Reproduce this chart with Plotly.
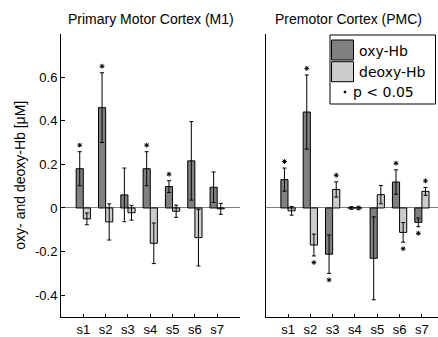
import plotly.graph_objects as go

# ---------------- data ----------------
categories = ["s1", "s2", "s3", "s4", "s5", "s6", "s7"]

m1_oxy = [0.18, 0.46, 0.06, 0.18, 0.098, 0.216, 0.095]
m1_oxy_err = [0.078, 0.16, 0.123, 0.078, 0.027, 0.18, 0.07]
m1_deoxy = [-0.05, -0.064, -0.022, -0.162, -0.015, -0.136, -0.004]
m1_deoxy_err = [0.027, 0.083, 0.034, 0.093, 0.028, 0.13, 0.025]
m1_oxy_sig = [True, True, False, True, True, False, False]
m1_deoxy_sig = [False, False, False, False, False, False, False]

pmc_oxy = [0.13, 0.44, -0.212, 0.0, -0.231, 0.119, -0.066]
pmc_oxy_err = [0.053, 0.17, 0.088, 0.006, 0.19, 0.056, 0.02]
pmc_deoxy = [-0.013, -0.17, 0.085, 0.0, 0.061, -0.112, 0.076]
pmc_deoxy_err = [0.02, 0.05, 0.035, 0.008, 0.042, 0.045, 0.018]
pmc_oxy_sig = [True, True, True, False, False, True, True]
pmc_deoxy_sig = [False, True, True, False, False, True, True]

ytick_vals = [-0.4, -0.2, 0, 0.2, 0.4, 0.6]
ytick_text = ["-0.4", "-0.2", "0", "0.2", "0.4", "0.6"]

# ---------------- style ----------------
W, H = 438, 337
OXY_COLOR = "#808080"
DEOXY_COLOR = "#cccccc"
BAR_W = 0.32
STAR_PAD = 0.03
FONT = "Liberation Sans, Arial, sans-serif"

pos = list(range(1, len(categories) + 1))

fig = go.Figure()


def add_panel(oxy, oxy_err, deoxy, deoxy_err, oxy_sig, deoxy_sig, xa, ya):
    fig.add_trace(go.Bar(
        x=pos, y=oxy, width=BAR_W, offset=-BAR_W,
        marker=dict(color=OXY_COLOR, line=dict(color="black", width=1)),
        error_y=dict(type="data", array=oxy_err, color="black", thickness=1, width=2),
        xaxis=xa, yaxis=ya, showlegend=False))
    fig.add_trace(go.Bar(
        x=pos, y=deoxy, width=BAR_W, offset=0,
        marker=dict(color=DEOXY_COLOR, line=dict(color="black", width=1)),
        error_y=dict(type="data", array=deoxy_err, color="black", thickness=1, width=2),
        xaxis=xa, yaxis=ya, showlegend=False))
    sx, sy = [], []
    for p, v, e, s in zip(pos, oxy, oxy_err, oxy_sig):
        if s:
            sx.append(p - BAR_W / 2)
            sy.append(v + (e + STAR_PAD) * (1 if v >= 0 else -1))
    for p, v, e, s in zip(pos, deoxy, deoxy_err, deoxy_sig):
        if s:
            sx.append(p + BAR_W / 2)
            sy.append(v + (e + STAR_PAD) * (1 if v >= 0 else -1))
    fig.add_trace(go.Scatter(
        x=sx, y=sy, mode="markers",
        marker=dict(symbol="asterisk-open", size=4, color="black",
                    line=dict(color="black", width=1)),
        xaxis=xa, yaxis=ya, showlegend=False, cliponaxis=False))


add_panel(m1_oxy, m1_oxy_err, m1_deoxy, m1_deoxy_err, m1_oxy_sig, m1_deoxy_sig, "x", "y")
add_panel(pmc_oxy, pmc_oxy_err, pmc_deoxy, pmc_deoxy_err, pmc_oxy_sig, pmc_deoxy_sig, "x2", "y2")

# pixel layout helpers
def px(x):
    return x / W


def py(y):
    return 1 - y / H


plot_top, plot_bot = 33.5, 317
left_x0, left_x1 = 61, 239.5
right_x0, right_x1 = 265.7, 438
unit = (left_x1 - left_x0) / 8.0

xcommon = dict(tickvals=pos, ticktext=categories, ticks="inside", ticklen=3,
               tickcolor="black", showline=True, linecolor="black", linewidth=1,
               showgrid=False, zeroline=False,
               tickfont=dict(family=FONT, size=13, color="black"))
ycommon = dict(range=[-0.5, 0.8], showgrid=False, showline=True, linecolor="black",
               linewidth=1, zeroline=True, zerolinecolor="#808080", zerolinewidth=1)

fig.update_layout(
    width=W, height=H,
    margin=dict(l=0, r=0, t=0, b=0),
    paper_bgcolor="white", plot_bgcolor="white",
    barmode="overlay",
    font=dict(family=FONT, size=13, color="black"),
    xaxis=dict(domain=[px(left_x0), px(left_x1)], range=[0, 8], anchor="y", **xcommon),
    yaxis=dict(domain=[py(plot_bot), py(plot_top)], anchor="x",
               tickvals=ytick_vals, ticktext=ytick_text, ticks="inside", ticklen=4,
               tickcolor="black", tickfont=dict(family=FONT, size=13, color="black"),
               title=dict(text="oxy- and deoxy-Hb [μM]", standoff=6,
                          font=dict(family=FONT, size=14, color="black")),
               **ycommon),
    xaxis2=dict(domain=[px(right_x0), 1.0],
                range=[0, (right_x1 - right_x0) / unit], anchor="y2", **xcommon),
    yaxis2=dict(domain=[py(plot_bot), py(plot_top)], anchor="x2",
                showticklabels=False, ticks="", **ycommon),
)

# titles
fig.add_annotation(text="Primary Motor Cortex (M1)", x=px(151), y=py(19),
                   xref="paper", yref="paper", showarrow=False,
                   xanchor="center", yanchor="middle",
                   font=dict(family=FONT, size=14, color="black"))
fig.add_annotation(text="Premotor Cortex (PMC)", x=px(348), y=py(19),
                   xref="paper", yref="paper", showarrow=False,
                   xanchor="center", yanchor="middle",
                   font=dict(family=FONT, size=14, color="black"))

# manual legend
LFONT = "DejaVu Sans, sans-serif"
fig.add_shape(type="rect", xref="paper", yref="paper",
              x0=px(330), x1=px(435.5), y0=py(104), y1=py(35),
              line=dict(color="black", width=1), fillcolor="white", layer="above")
fig.add_shape(type="rect", xref="paper", yref="paper",
              x0=px(331.5), x1=px(353.5), y0=py(60), y1=py(40),
              line=dict(color="black", width=1), fillcolor=OXY_COLOR, layer="above")
fig.add_shape(type="rect", xref="paper", yref="paper",
              x0=px(331.5), x1=px(353.5), y0=py(81.7), y1=py(61.7),
              line=dict(color="black", width=1), fillcolor=DEOXY_COLOR, layer="above")
fig.add_shape(type="circle", xref="paper", yref="paper",
              x0=px(344), x1=px(346), y0=py(93), y1=py(91),
              line=dict(color="black", width=1), fillcolor="black", layer="above")
for txt, x0, yc in [("oxy-Hb", 356.5, 50.5), ("deoxy-Hb", 356.5, 72.0), ("p &lt; 0.05", 350.5, 92.0)]:
    fig.add_annotation(text=txt, x=px(x0), y=py(yc), xref="paper", yref="paper",
                       xanchor="left", yanchor="middle", showarrow=False,
                       font=dict(family=LFONT, size=14, color="black"))

fig.write_html(
    "out.html",
    config={"displayModeBar": False},
    post_script="document.body.style.margin='0';document.body.style.overflow='hidden';",
)
